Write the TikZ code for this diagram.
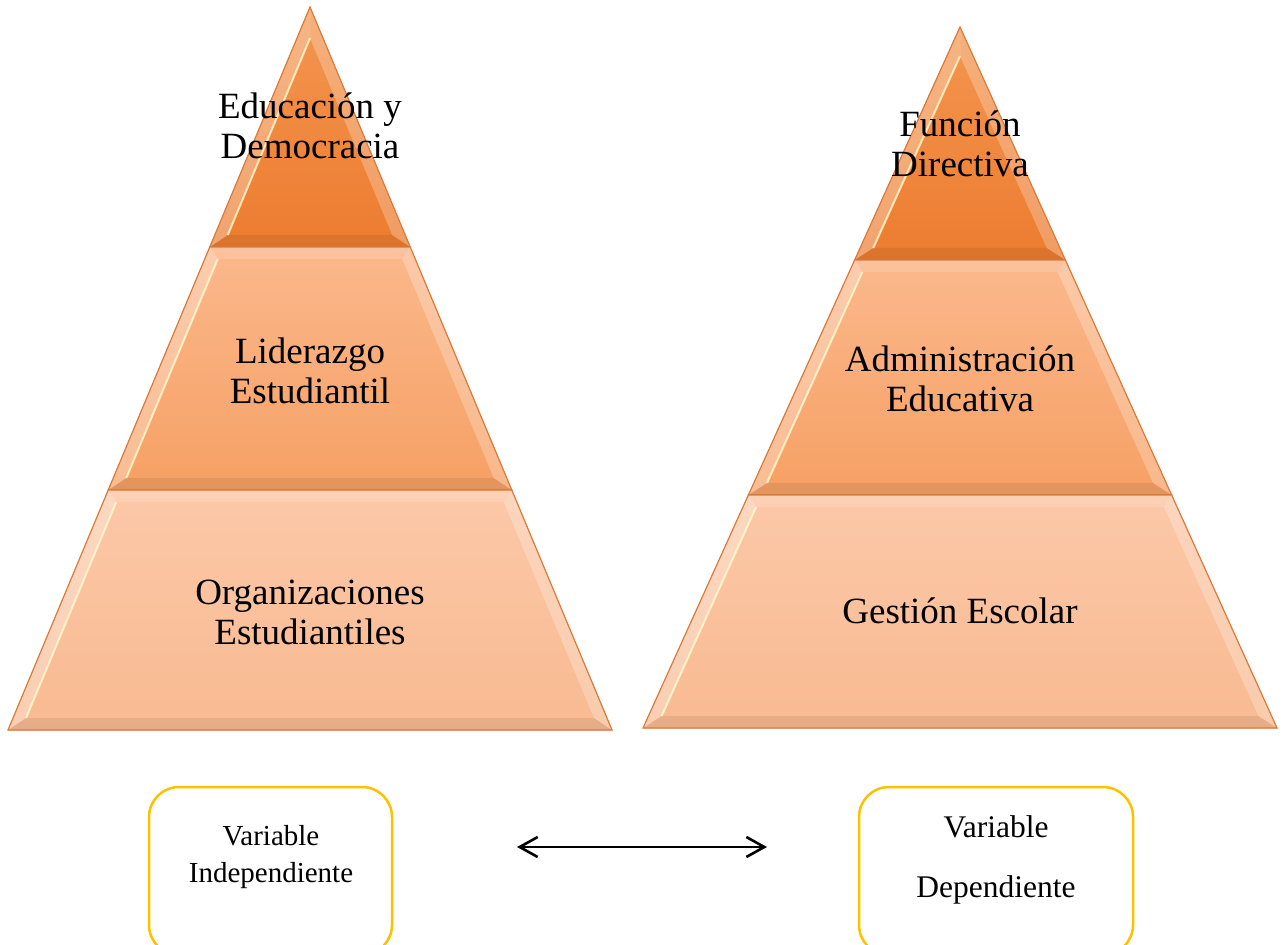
\documentclass[tikz,border=0pt]{standalone}
\usepackage{fontspec}
\setmainfont{Liberation Serif}
\usetikzlibrary{arrows.meta}
\definecolor{tierAt}{RGB}{244,150,80}
\definecolor{tierAb}{RGB}{236,124,48}
\definecolor{tierBt}{RGB}{251,184,140}
\definecolor{tierBb}{RGB}{246,160,100}
\definecolor{tierCt}{RGB}{252,200,168}
\definecolor{tierCb}{RGB}{248,186,145}
\definecolor{tierEdge}{RGB}{220,122,58}
\definecolor{boxLine}{RGB}{255,192,0}

\begin{document}
\begin{tikzpicture}[x=0.5pt,y=-0.5pt,
  tierlabel/.style={align=center,font=\fontsize{18.5}{20}\selectfont},
  varbox/.style={draw=boxLine,line width=1.25pt,rounded corners=15pt,minimum height=84pt},
  vartext/.style={align=center},
  >={Straight Barb[length=9pt,width=10pt]}]
  \useasboundingbox (0,0) rectangle (1283,945);
  \clip (0,0) rectangle (1283,945);
  % pyramid tiers: apex x/apex y/slope/top/bottom/colours
  \foreach \cx/\cy/\sk/\ytop/\ybot/\ctop/\cbot in {
      310/7/0.4177/7/247/tierAt/tierAb,
      310/7/0.4177/247/490/tierBt/tierBb,
      310/7/0.4177/490/730/tierCt/tierCb,
      960/27/0.4522/27/260/tierAt/tierAb,
      960/27/0.4522/260/495/tierBt/tierBb,
      960/27/0.4522/495/728/tierCt/tierCb}{
    \pgfmathsetmacro\wa{\sk*(\ytop-\cy)}
    \pgfmathsetmacro\wb{\sk*(\ybot-\cy)}
    \pgfmathsetmacro\ee{12*sqrt(1+\sk*\sk)}
    \pgfmathsetmacro\yi{max(\ytop+12,\cy+\ee/\sk)}
    \pgfmathsetmacro\yj{\ybot-12}
    \pgfmathsetmacro\wi{\sk*(\yi-\cy)-\ee}
    \pgfmathsetmacro\wj{\sk*(\yj-\cy)-\ee}
    \fill[top color=\ctop,bottom color=\cbot] (\cx-\wa,\ytop) -- (\cx+\wa,\ytop)
      -- (\cx+\wb,\ybot) -- (\cx-\wb,\ybot) -- cycle;
    % bevel
    \fill[white,opacity=.15] (\cx-\wa,\ytop) -- (\cx+\wa,\ytop) -- (\cx+\wi,\yi) -- (\cx-\wi,\yi) -- cycle;
    \fill[white,opacity=.3] (\cx-\wa,\ytop) -- (\cx-\wi,\yi) -- (\cx-\wj,\yj) -- (\cx-\wb,\ybot) -- cycle;
    \fill[white,opacity=.25] (\cx+\wa,\ytop) -- (\cx+\wb,\ybot) -- (\cx+\wj,\yj) -- (\cx+\wi,\yi) -- cycle;
    \fill[black,opacity=.07] (\cx-\wb,\ybot) -- (\cx+\wb,\ybot) -- (\cx+\wj,\yj) -- (\cx-\wj,\yj) -- cycle;
    \draw[white!80!yellow,line width=1pt,opacity=.8] (\cx-\wi,\yi) -- (\cx-\wj,\yj);
    \draw[tierEdge,line width=.6pt] (\cx-\wa,\ytop) -- (\cx+\wa,\ytop)
      -- (\cx+\wb,\ybot) -- (\cx-\wb,\ybot) -- cycle;
  }
  % tier labels
  \node[tierlabel] (edu) at (310,126) {Educación y\\Democracia};
  \node[tierlabel] (lid) at (310,371) {Liderazgo\\Estudiantil};
  \node[tierlabel] (org) at (310,612) {Organizaciones\\Estudiantiles};
  \node[tierlabel] (fun) at (960,144) {Función\\Directiva};
  \node[tierlabel] (adm) at (960,379) {Administración\\Educativa};
  \node[tierlabel] (ges) at (960,611) {Gestión Escolar};
  % variable boxes
  \node[varbox,minimum width=121.5pt] (indep) at (270.5,871) {};
  \node[vartext,font=\fontsize{14.5}{18.5}\selectfont] (indeptxt) at (271,857) {Variable\\Independiente};
  \node[varbox,minimum width=137pt] (dep) at (996,871) {};
  \node[vartext,font=\fontsize{15.75}{30}\selectfont] (deptxt) at (996,860) {Variable\\Dependiente};
  \coordinate (arrL) at (517,847);
  \coordinate (arrR) at (767,847);
  \draw[<->,line width=1.3pt] (arrL) -- (arrR);
\end{tikzpicture}
\end{document}
